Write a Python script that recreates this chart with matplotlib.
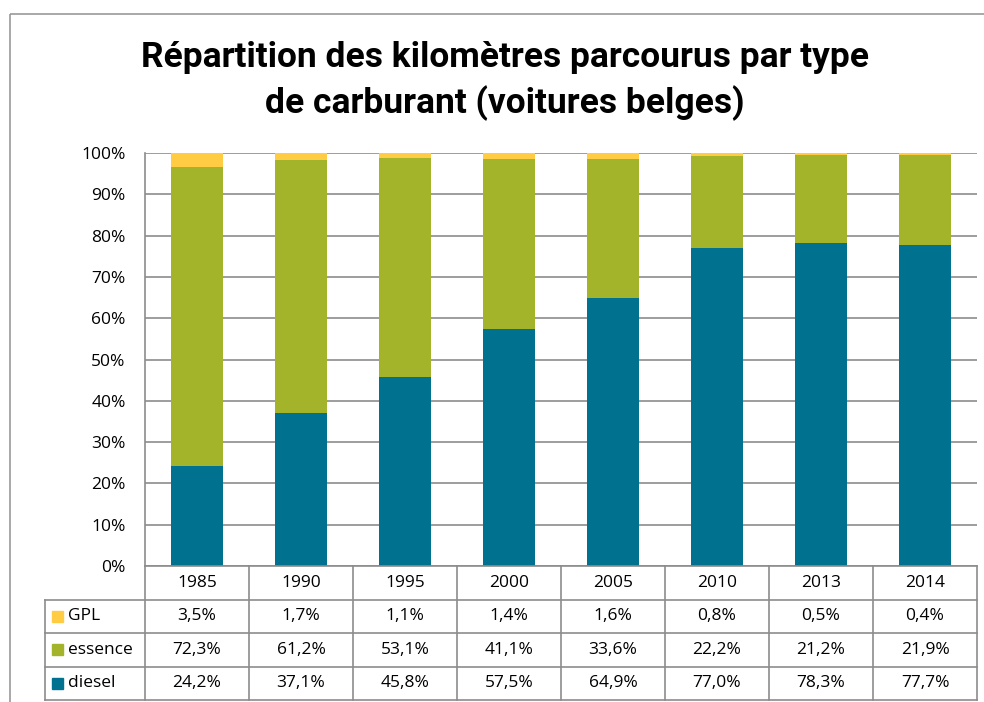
import numpy as np
import matplotlib.pyplot as plt
from matplotlib.patches import Rectangle

# données
annees = ["1985", "1990", "1995", "2000", "2005", "2010", "2013", "2014"]
diesel = [24.2, 37.1, 45.8, 57.5, 64.9, 77.0, 78.3, 77.7]
essence = [72.3, 61.2, 53.1, 41.1, 33.6, 22.2, 21.2, 21.9]
gpl = [3.5, 1.7, 1.1, 1.4, 1.6, 0.8, 0.5, 0.4]

series = ["GPL", "essence", "diesel"]
couleurs = {"diesel": "#00718F", "essence": "#A3B42B", "GPL": "#FFCC44"}
valeurs = {"diesel": diesel, "essence": essence, "GPL": gpl}

W, H = 984, 702
fig = plt.figure(figsize=(W / 100, H / 100), dpi=100)
gris = "#8C8C8C"
police = "Open Sans"
taille = 12.5


def px(x0, y0, x1, y1):
    return [x0 / W, 1 - y1 / H, (x1 - x0) / W, (y1 - y0) / H]


# cadre du graphique
cadre = fig.add_axes([0, 0, 1, 1])
cadre.set_xlim(0, W)
cadre.set_ylim(H, 0)
cadre.axis("off")
cadre.add_patch(Rectangle((10, 14), W + 20, H + 20, fill=False, edgecolor="#9A9A9A", lw=1.2))

fig.text(505 / W, 1 - 81 / H, "Répartition des kilomètres parcourus par type\nde carburant (voitures belges)",
         ha="center", va="center", fontsize=25.5, fontweight="bold", family="Roboto", linespacing=1.42)

# barres empilées
ax = fig.add_axes(px(145, 153, 977, 566))
x = np.arange(len(annees))
bas = np.zeros(len(annees))
for s in ["diesel", "essence", "GPL"]:
    ax.bar(x, valeurs[s], 0.5, bottom=bas, color=couleurs[s], zorder=3)
    bas += np.array(valeurs[s])
ax.set_xlim(-0.5, len(annees) - 0.5)
ax.set_ylim(0, 100)
ax.set_yticks(np.arange(0, 101, 10))
ax.set_yticklabels([f"{v}%" for v in range(0, 101, 10)], family=police, fontsize=taille)
ax.yaxis.grid(True, color=gris, lw=1.2, zorder=0)
ax.tick_params(axis="y", length=0, pad=14)
ax.set_xticks([])
for sp in ["top", "right", "bottom"]:
    ax.spines[sp].set_visible(False)
ax.spines["left"].set_color(gris)
ax.spines["left"].set_linewidth(1.2)

# tableau de données
tab = fig.add_axes(px(45, 566, 977, 700))
gauche = -0.5 - 100 / 104
tab.set_xlim(gauche, len(annees) - 0.5)
tab.set_ylim(4, 0)
tab.axis("off")
kw = dict(color=gris, lw=1.2, clip_on=False)
tab.plot([-0.5, len(annees) - 0.5], [0, 0], **kw)
for r in range(1, 5):
    tab.plot([gauche, len(annees) - 0.5], [r, r], **kw)
for i in range(len(annees) + 1):
    tab.plot([i - 0.5, i - 0.5], [0, 4], **kw)
tab.plot([gauche, gauche], [1, 4], **kw)

for i, a in enumerate(annees):
    tab.text(i, 0.5, a, ha="center", va="center", family=police, fontsize=taille)
for r, s in enumerate(series, start=1):
    tab.add_patch(Rectangle((gauche + 0.065, r + 0.33), 0.105, 0.34, color=couleurs[s], clip_on=False))
    tab.text(gauche + 0.22, r + 0.5, s, ha="left", va="center", family=police, fontsize=taille)
    for i, v in enumerate(valeurs[s]):
        tab.text(i, r + 0.5, f"{v:.1f}%".replace(".", ","), ha="center", va="center",
                 family=police, fontsize=taille)

fig.savefig("out.png", dpi=100)
